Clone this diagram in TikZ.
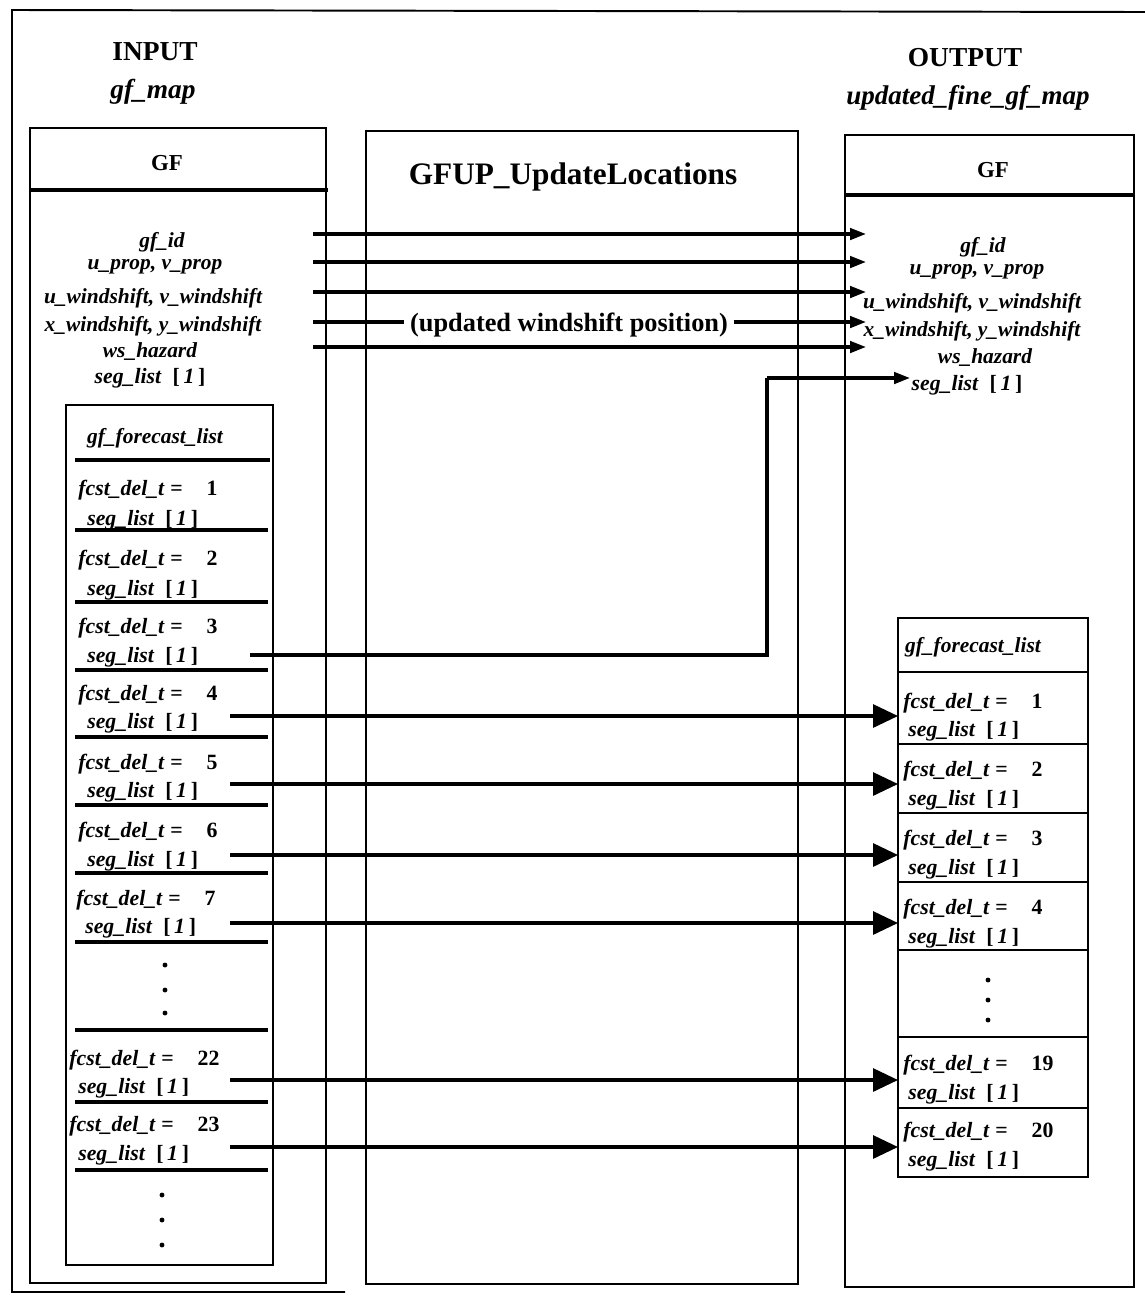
\documentclass[tikz,border=0pt]{standalone}
\usepackage{fontspec}
\setmainfont{Liberation Serif}
\usetikzlibrary{arrows.meta,positioning,calc}

\newcommand{\fcst}[1]{\textit{fcst\_del\_t} =\hspace{1.1em}#1}
\newcommand{\segl}{\textit{seg\_list}\ \ [\,\textit{1}\,]}

\begin{document}
\begin{tikzpicture}[
    x=0.02cm, y=-0.02cm,
    frame/.style={line width=1.1pt},
    sepline/.style={line width=1.8pt},
    lbl/.style={font=\bfseries\itshape\fontsize{12.2}{14}\selectfont, inner sep=0pt},
    rowtxt/.style={font=\bfseries\fontsize{12.4}{14}\selectfont, inner sep=0pt, anchor=west},
    head/.style={font=\bfseries\fontsize{15.6}{18}\selectfont, inner sep=0pt},
    smallarr/.style={-{Triangle[length=3.2mm,width=2.3mm]}, line width=1.8pt},
    bigarr/.style={-{Triangle[length=5mm,width=4.6mm]}, line width=1.8pt},
    dot/.style={circle, fill=black, inner sep=0pt, minimum size=2.8pt}
  ]
    \useasboundingbox (0,0) rectangle (1145,1302);

    % outer frame
    \draw[frame] (1145,12) -- (12,10) -- (12,1292) -- (345,1292);

    % headings
    \node[head] (inp) at (155,52) {INPUT};
    \node[head, font=\bfseries\itshape\fontsize{15.6}{18}\selectfont] (inmap) at (153,92) {gf\_map};
    \node[head] (outp) at (965,58) {OUTPUT};
    \node[head, font=\bfseries\itshape\fontsize{15.4}{18}\selectfont] (outmap) at (968,98) {updated\_fine\_gf\_map};

    % main boxes
    \draw[frame] (30,128) rectangle (326,1283);
    \draw[line width=2pt] (30,190) -- (328,190);
    \node[head, font=\bfseries\fontsize{13}{15}\selectfont] (gfin) at (167,163) {GF};

    \draw[frame] (366,131) rectangle (798,1284);
    \node[head, font=\bfseries\fontsize{17.8}{21}\selectfont] (proc) at (573,177) {GFUP\_UpdateLocations};

    \draw[frame] (845,135) rectangle (1134,1287);
    \draw[line width=2pt] (845,195) -- (1135,195);
    \node[head, font=\bfseries\fontsize{13}{15}\selectfont] (gfout) at (993,170) {GF};

    % GF fields
    \node[lbl] (iid) at (162,242) {gf\_id};
    \node[lbl] (iprop) at (155,267) {u\_prop, v\_prop};
    \node[lbl] (iuw) at (153,298) {u\_windshift, v\_windshift};
    \node[lbl] (ixw) at (153,326) {x\_windshift, y\_windshift};
    \node[lbl] (ihaz) at (150,352) {ws\_hazard};
    \node[rowtxt, anchor=center] (iseg) at (150,378) {\segl};

    \node[lbl] (oid) at (983,247) {gf\_id};
    \node[lbl] (oprop) at (977,272) {u\_prop, v\_prop};
    \node[lbl] (ouw) at (972,303) {u\_windshift, v\_windshift};
    \node[lbl] (oxw) at (972,331) {x\_windshift, y\_windshift};
    \node[lbl] (ohaz) at (985,358) {ws\_hazard};
    \node[rowtxt, anchor=center] (oseg) at (967,385) {\segl};

    % field arrows
    \foreach \n/\y in {1/234, 2/262, 3/292, 4/322, 5/347} {
      \coordinate (s\n) at (313,\y);
      \coordinate (t\n) at (866,\y);
    }
    \draw[smallarr] (s1) -- (t1);
    \draw[smallarr] (s2) -- (t2);
    \draw[smallarr] (s3) -- (t3);
    \node[font=\bfseries\fontsize{15}{17}\selectfont, fill=white, inner xsep=3pt, inner ysep=1pt] (upd) at (569,325) {(updated windshift position)};
    \draw[line width=1.8pt] (s4) -- (upd.west |- s4);
    \draw[smallarr] (upd.east |- t4) -- (t4);
    \draw[smallarr] (s5) -- (t5);

    % input forecast list
    \draw[frame] (66,405) rectangle (273,1265);
    \node[lbl] (ilist) at (155,438) {gf\_forecast\_list};
    \draw[sepline] (75,460) -- (270,460);
    \foreach \n/\ya/\yb/\ys/\xa in {1/490/520/530/78, 2/560/590/602/78, 3/628/657/670/78, 4/695/723/737/78,
        5/764/792/805/78, 6/832/861/873/78, 7/900/928/942/76, 22/1060/1088/1102/69, 23/1126/1155/1170/69} {
      \node[rowtxt] (if\n) at (\xa,\ya) {\fcst{\n}};
      \node[rowtxt] (is\n) at (\xa+9,\yb) {\segl};
      \draw[sepline] (75,\ys) -- (268,\ys);
    }
    \foreach \y in {965,990,1013} \node[dot] at (165,\y) {};
    \draw[sepline] (75,1030) -- (268,1030);
    \foreach \y in {1195,1220,1245} \node[dot] at (162,\y) {};

    % output forecast list
    \draw[frame] (898,618) rectangle (1088,1177);
    \node[lbl] (olist) at (973,647) {gf\_forecast\_list};
    \foreach \y in {672,744,813,882,950,1037,1108}
      \draw[line width=1.5pt] (898,\y) -- (1088,\y);
    \foreach \n/\ya/\yb in {1/703/731, 2/771/800, 3/840/869, 4/909/938, 19/1065/1094, 20/1132/1161} {
      \node[rowtxt] (of\n) at (903,\ya) {\fcst{\n}};
      \node[rowtxt] (os\n) at (908,\yb) {\segl};
    }
    \foreach \y in {980,1000,1020} \node[dot] at (988,\y) {};

    % seg_list of forecast 3 becomes the new GF seg_list
    \coordinate (a3) at (250,655);
    \coordinate (bend) at (767,378);
    \coordinate (t6) at (910,378);
    \draw[line width=1.8pt] (a3) -| (bend);
    \draw[smallarr] (bend) -- (t6);

    % forecast shifts
    \foreach \i/\o/\y in {4/1/716, 5/2/784, 6/3/855, 7/4/923, 22/19/1080, 23/20/1147} {
      \coordinate (a\i) at (230,\y);
      \coordinate (b\o) at (898,\y);
    }
    \draw[bigarr] (a4) -- (b1);
    \draw[bigarr] (a5) -- (b2);
    \draw[bigarr] (a6) -- (b3);
    \draw[bigarr] (a7) -- (b4);
    \draw[bigarr] (a22) -- (b19);
    \draw[bigarr] (a23) -- (b20);
  \end{tikzpicture}
\end{document}
